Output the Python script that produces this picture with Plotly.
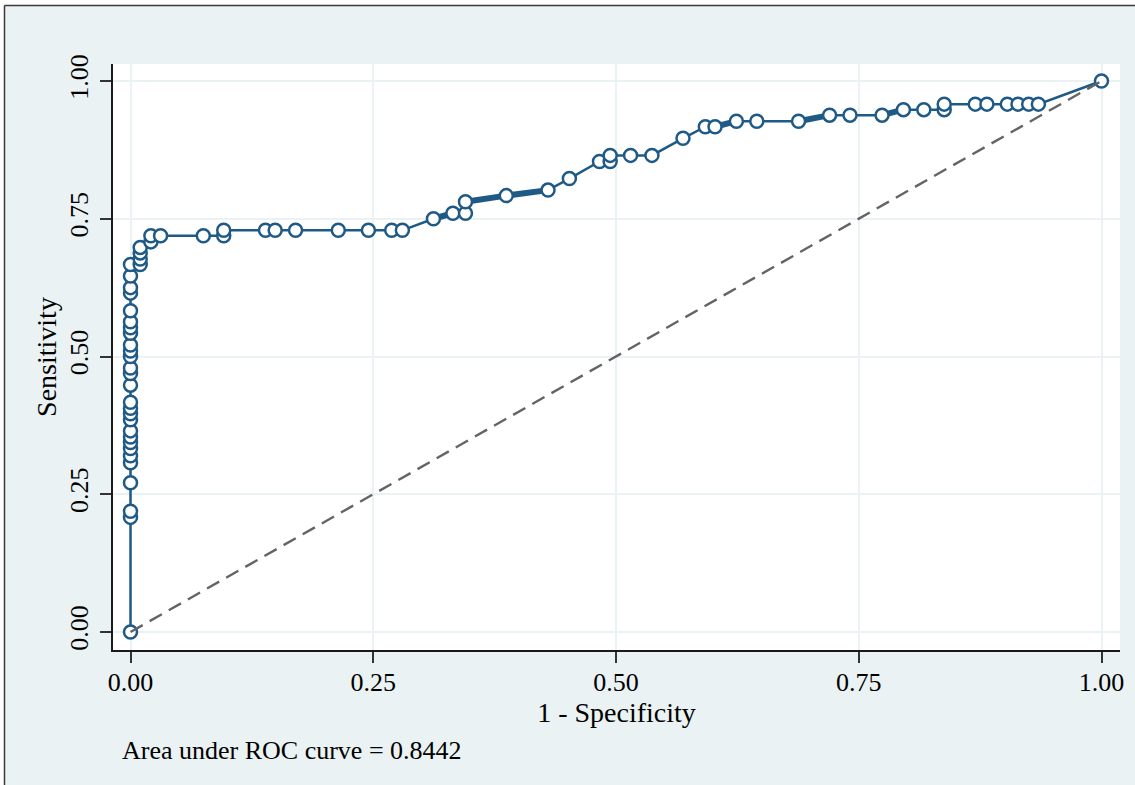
import plotly.graph_objects as go

# ---- data ----
fpr = [0.0] * 28 + [0.010, 0.010, 0.010, 0.010, 0.021, 0.021, 0.031, 0.075, 0.096, 0.096,
                    0.139, 0.149, 0.170, 0.214, 0.245, 0.269, 0.280,
                    0.312, 0.332, 0.345, 0.345, 0.387, 0.430, 0.452, 0.483, 0.494, 0.494,
                    0.515, 0.537, 0.569, 0.592, 0.602, 0.624, 0.645, 0.688, 0.720, 0.741,
                    0.774, 0.796, 0.817, 0.838, 0.838, 0.870, 0.882, 0.903, 0.914, 0.925,
                    0.935, 1.0]
sensitivity = [0.000, 0.208, 0.219, 0.271, 0.307, 0.320, 0.333, 0.344, 0.354, 0.365,
               0.385, 0.396, 0.406, 0.417, 0.448, 0.469, 0.479, 0.500, 0.510, 0.521,
               0.542, 0.552, 0.563, 0.583, 0.615, 0.625, 0.646, 0.667,
               0.667, 0.677, 0.688, 0.698, 0.708, 0.719, 0.719, 0.719, 0.719, 0.729,
               0.729, 0.729, 0.729, 0.729, 0.729, 0.729, 0.729,
               0.750, 0.760, 0.760, 0.781, 0.792, 0.802, 0.823, 0.854, 0.854, 0.865,
               0.865, 0.865, 0.896, 0.917, 0.917, 0.927, 0.927, 0.927, 0.938, 0.938,
               0.938, 0.948, 0.948, 0.948, 0.958, 0.958, 0.958, 0.958, 0.958, 0.958,
               0.958, 1.000]
# segments (starting fpr) drawn heavier because of tied observations
tied_segment_starts = [0.312, 0.345, 0.387, 0.602, 0.688, 0.774]

ref_line = [0.0, 1.0]
tick_vals = [0.0, 0.25, 0.5, 0.75, 1.0]
tick_text = ["0.00", "0.25", "0.50", "0.75", "1.00"]
auc_text = "Area under ROC curve = 0.8442"

# ---- styling ----
W, H = 1135, 785
L, R, T, B = 113, 15, 64, 135
BG = "#eaf2f3"
BLUE = "#1f5a87"
FONT = "Liberation Serif"
FS = 26
FS_TITLE = 28

# thick tied segments
tx, ty = [], []
for s in tied_segment_starts:
    idx = max(i for i, v in enumerate(fpr) if abs(v - s) < 1e-9)
    tx += [fpr[idx], fpr[idx + 1], None]
    ty += [sensitivity[idx], sensitivity[idx + 1], None]

fig = go.Figure()
fig.add_trace(go.Scatter(x=tx, y=ty, mode="lines",
                         line=dict(color=BLUE, width=6),
                         hoverinfo="skip", showlegend=False))
fig.add_trace(go.Scatter(x=fpr, y=sensitivity, mode="lines+markers",
                         line=dict(color=BLUE, width=2.5),
                         marker=dict(symbol="circle", size=13, color="white",
                                     line=dict(color=BLUE, width=2.5)),
                         showlegend=False))
fig.add_trace(go.Scatter(x=ref_line, y=ref_line, mode="lines",
                         line=dict(color="#646464", width=2.4, dash="14px,8px"),
                         showlegend=False))

pw, ph = W - L - R, H - T - B


def px_x(p):
    return (p - L) / pw


def px_y(p):
    return (H - B - p) / ph


shapes = [
    # white outer margin strips
    dict(type="rect", xref="paper", yref="paper", x0=px_x(0), x1=px_x(4), y0=px_y(H), y1=px_y(0),
         fillcolor="white", line=dict(width=0), layer="below"),
    dict(type="rect", xref="paper", yref="paper", x0=px_x(0), x1=px_x(W), y0=px_y(5), y1=px_y(0),
         fillcolor="white", line=dict(width=0), layer="below"),
    # outer border (left and top)
    dict(type="line", xref="paper", yref="paper", x0=px_x(4.5), x1=px_x(4.5), y0=px_y(H), y1=px_y(5.5),
         line=dict(color="#3a3a3a", width=1.5)),
    dict(type="line", xref="paper", yref="paper", x0=px_x(4.5), x1=px_x(W), y0=px_y(5.5), y1=px_y(5.5),
         line=dict(color="#3a3a3a", width=1.5)),
]

fig.update_layout(
    width=W, height=H,
    margin=dict(l=L, r=R, t=T, b=B, autoexpand=False),
    paper_bgcolor=BG, plot_bgcolor="white",
    font=dict(family=FONT, size=FS, color="black"),
    shapes=shapes,
    annotations=[dict(text=auc_text, xref="paper", yref="paper",
                      x=px_x(120), y=px_y(750), xanchor="left", yanchor="middle",
                      showarrow=False, font=dict(family=FONT, size=FS, color="black"))],
)

x0px = 130.5
sx = 971.0
fig.update_xaxes(range=[(L - x0px) / sx, (W - R - x0px) / sx],
                 tickvals=tick_vals, ticktext=tick_text,
                 showgrid=True, gridcolor=BG, gridwidth=2.2, zeroline=False,
                 showline=True, linecolor="#1a1a1a", linewidth=1.5,
                 ticks="outside", ticklen=11, tickwidth=1.5, tickcolor="#333333",
                 ticklabelstandoff=-3,
                 tickfont=dict(family=FONT, size=FS, color="black"),
                 title=dict(text="1 - Specificity", standoff=0,
                            font=dict(family=FONT, size=FS_TITLE, color="black")))

y0px = 632.0
sy = 551.0
fig.update_yaxes(range=[-(H - B - y0px) / sy, (y0px - T) / sy],
                 tickvals=tick_vals, ticktext=tick_text, tickangle=-90,
                 showgrid=True, gridcolor=BG, gridwidth=2.2, zeroline=False,
                 showline=True, linecolor="#1a1a1a", linewidth=1.5,
                 ticks="outside", ticklen=11, tickwidth=1.5, tickcolor="#333333",
                 ticklabelstandoff=2,
                 tickfont=dict(family=FONT, size=FS, color="black"),
                 title=dict(text="Sensitivity", standoff=0,
                            font=dict(family=FONT, size=FS_TITLE, color="black")))

fig.write_html("out.html", config={"displayModeBar": False},
               post_script="document.body.style.margin='0';document.body.style.padding='0';")
